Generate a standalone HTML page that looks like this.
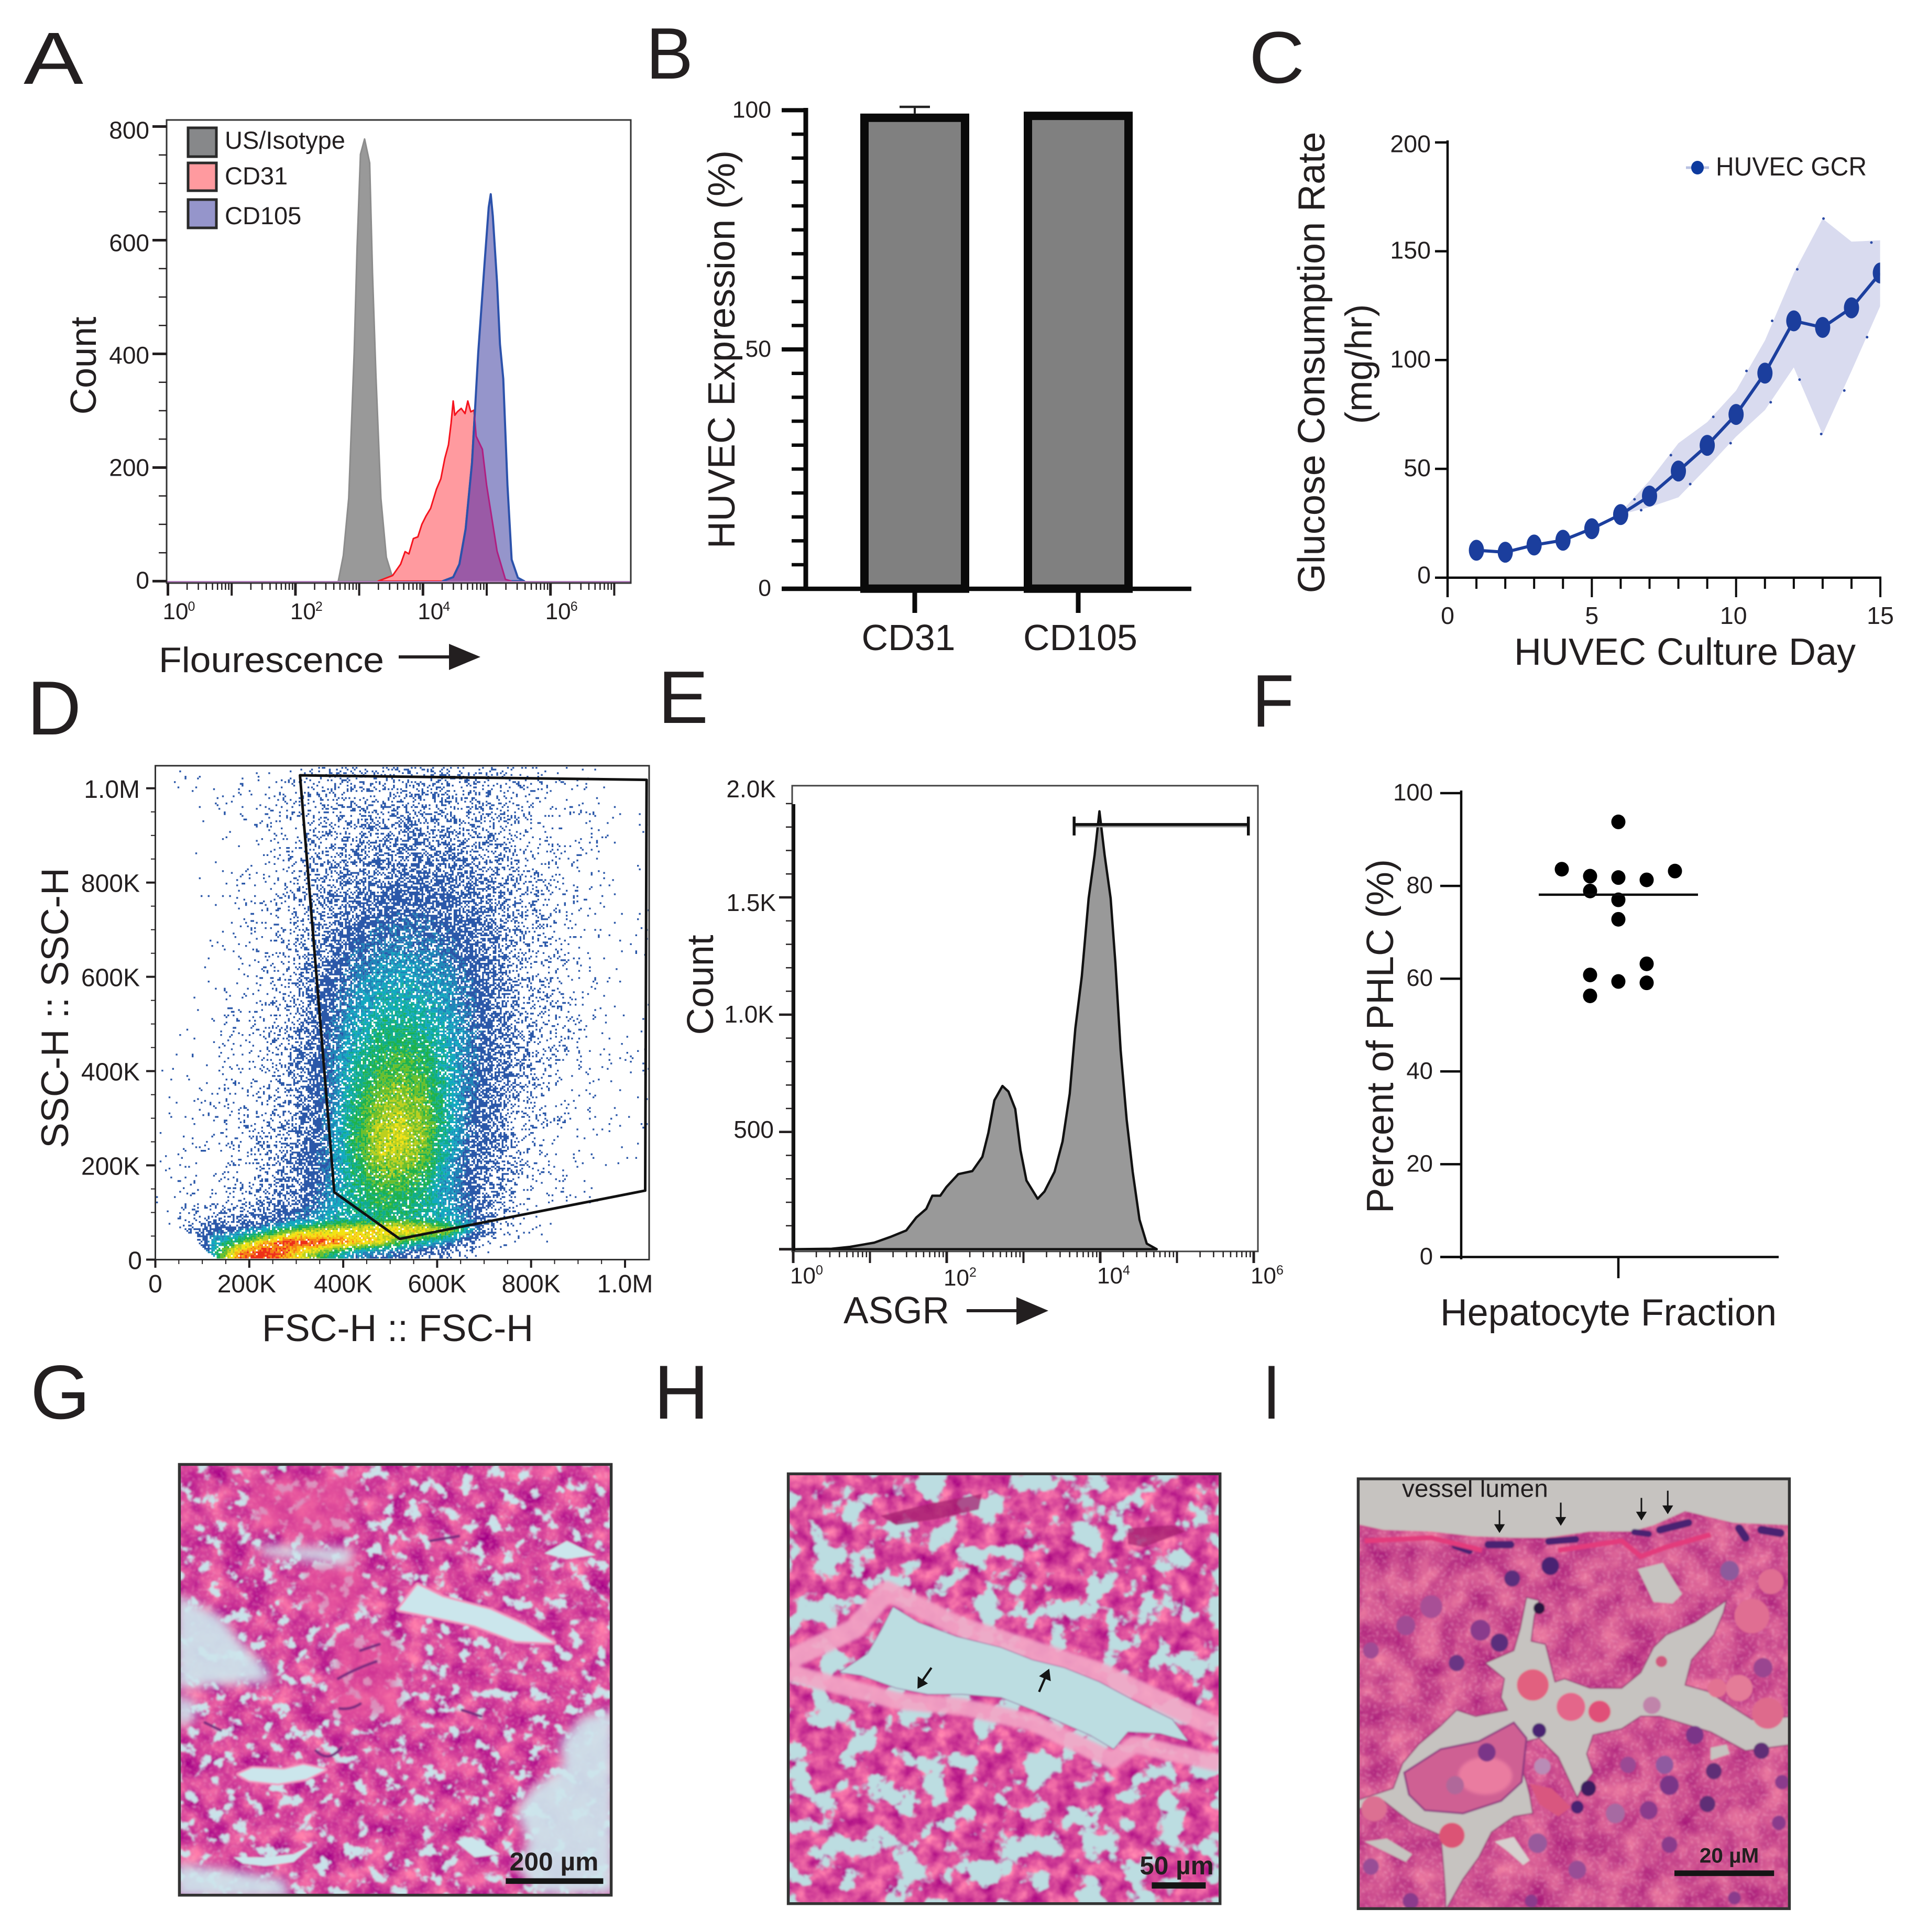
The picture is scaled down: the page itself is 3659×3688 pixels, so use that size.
<!DOCTYPE html>
<html lang="en">
<head>
<meta charset="utf-8">
<title>HUVEC and hepatocyte characterisation figure</title>
<style>
html,body{margin:0;padding:0;background:#fff;}
svg{display:block;}
text{font-family:"Liberation Sans",Arial,sans-serif;fill:#231f20;}
</style>
</head>
<body>
<svg id="figure" xmlns="http://www.w3.org/2000/svg" width="3659" height="3688" viewBox="0 0 3659 3688">
<defs>
<filter id="tissue-g" x="0" y="0" width="100%" height="100%" color-interpolation-filters="sRGB">
  <feTurbulence type="fractalNoise" baseFrequency=".024" numOctaves="4" seed="7" result="n"/>
  <feColorMatrix in="n" type="matrix" values="0 0 0 0 0  0 0 0 0 0  0 0 0 0 0  9 0 0 0 -2.9" result="mask"/>
  <feTurbulence type="fractalNoise" baseFrequency=".014" numOctaves="4" seed="21" result="c"/>
  <feColorMatrix in="c" type="matrix" values=".5 0 0 0 .58  .7 0 0 0 -.1  .2 0 0 0 .5  0 0 0 0 1" result="col"/>
  <feComposite in="col" in2="mask" operator="in"/>
</filter>
<filter id="tissue-h" x="0" y="0" width="100%" height="100%" color-interpolation-filters="sRGB">
  <feTurbulence type="fractalNoise" baseFrequency=".012" numOctaves="4" seed="11" result="n"/>
  <feColorMatrix in="n" type="matrix" values="0 0 0 0 0  0 0 0 0 0  0 0 0 0 0  12 0 0 0 -4.7" result="mask"/>
  <feTurbulence type="fractalNoise" baseFrequency=".02" numOctaves="4" seed="5" result="c"/>
  <feColorMatrix in="c" type="matrix" values=".5 0 0 0 .6  .7 0 0 0 -.06  .25 0 0 0 .48  0 0 0 0 1" result="col"/>
  <feComposite in="col" in2="mask" operator="in"/>
</filter>
<filter id="tissue-i" x="0" y="0" width="100%" height="100%" color-interpolation-filters="sRGB">
  <feTurbulence type="fractalNoise" baseFrequency=".012" numOctaves="4" seed="9" result="c"/>
  <feColorMatrix in="c" type="matrix" values=".35 0 0 0 .63  .5 0 0 0 .06  .2 0 0 0 .46  0 0 0 0 1"/>
</filter>
<filter id="grain" x="0" y="0" width="100%" height="100%" color-interpolation-filters="sRGB">
  <feTurbulence type="fractalNoise" baseFrequency=".11" numOctaves="2" seed="3" result="n"/>
  <feColorMatrix in="n" type="matrix" values="0 0 0 0 .98  0 0 0 0 .72  0 0 0 0 .82  18 0 0 0 -10.6"/>
</filter>
<filter id="soft" x="-30%" y="-30%" width="160%" height="160%"><feGaussianBlur stdDeviation="16"/></filter>
<filter id="softer" x="-30%" y="-30%" width="160%" height="160%"><feGaussianBlur stdDeviation="5"/></filter>
<filter id="image-soft" x="0" y="0" width="100%" height="100%"><feGaussianBlur stdDeviation="2.5"/></filter>
<clipPath id="clip-g"><rect x="70" y="76" width="1360" height="1375"/></clipPath>
<clipPath id="clip-h"><rect x="90" y="106" width="1360" height="1372"/></clipPath>
<clipPath id="clip-i"><rect x="70" y="122" width="1358" height="1372"/></clipPath>
</defs>

<text x="45" y="160" font-size="141" textLength="114" lengthAdjust="spacingAndGlyphs">A</text>
<text x="1233" y="150" font-size="139" textLength="90" lengthAdjust="spacingAndGlyphs">B</text>
<text x="2384" y="158" font-size="140" textLength="106" lengthAdjust="spacingAndGlyphs">C</text>
<text x="52" y="1402" font-size="146" textLength="103" lengthAdjust="spacingAndGlyphs">D</text>
<text x="1256" y="1380" font-size="142" textLength="96" lengthAdjust="spacingAndGlyphs">E</text>
<text x="2390" y="1387" font-size="142" textLength="80" lengthAdjust="spacingAndGlyphs">F</text>
<text x="58" y="2708" font-size="146" textLength="114" lengthAdjust="spacingAndGlyphs">G</text>
<text x="1248" y="2708" font-size="146" textLength="105" lengthAdjust="spacingAndGlyphs">H</text>
<text x="2410" y="2708" font-size="146" textLength="34" lengthAdjust="spacingAndGlyphs">I</text>

<g id="panel-a">
  <text transform="translate(183,698) rotate(-90)" text-anchor="middle" font-size="70">Count</text>
  <text x="303" y="1283" font-size="68" textLength="430" lengthAdjust="spacingAndGlyphs">Flourescence</text>
  <line x1="761" y1="1254" x2="860" y2="1254" stroke="#231f20" stroke-width="6"/>
  <polygon points="857,1229 917,1254 857,1279" fill="#231f20"/>
</g>
<g id="panel-b">
  <text transform="translate(1402,667) rotate(-90)" text-anchor="middle" font-size="72">HUVEC Expression (%)</text>
</g>
<g id="panel-c">
  <text transform="translate(2528,692) rotate(-90)" text-anchor="middle" font-size="72">Glucose Consumption Rate</text>
  <text transform="translate(2618,695) rotate(-90)" text-anchor="middle" font-size="71">(mg/hr)</text>
  <text x="2890" y="1269" font-size="72" textLength="652" lengthAdjust="spacingAndGlyphs">HUVEC Culture Day</text>
</g>
<g id="panel-d">
  <text x="500" y="2560" font-size="72" textLength="518" lengthAdjust="spacingAndGlyphs">FSC-H :: FSC-H</text>
  <text transform="translate(130,1924) rotate(-90)" text-anchor="middle" font-size="73">SSC-H :: SSC-H</text>
</g>
<g id="panel-e">
  <text transform="translate(1361,1880) rotate(-90)" text-anchor="middle" font-size="71.6">Count</text>
  <text x="1610" y="2526" font-size="72" textLength="202" lengthAdjust="spacingAndGlyphs">ASGR</text>
  <line x1="1845" y1="2502" x2="1943" y2="2502" stroke="#231f20" stroke-width="6"/>
  <polygon points="1940,2476 2001,2502 1940,2529" fill="#231f20"/>
</g>
<g id="panel-f">
  <text transform="translate(2659,1978) rotate(-90)" text-anchor="middle" font-size="72.4">Percent of PHLC (%)</text>
  <text x="2749" y="2530" font-size="72" textLength="642" lengthAdjust="spacingAndGlyphs">Hepatocyte Fraction</text>
</g>

<g id="panel-g" transform="translate(300,2750) scale(.606,.598)">
  <g clip-path="url(#clip-g)">
    <g filter="url(#image-soft)">
      <rect x="70" y="76" width="1360" height="1375" fill="#c8e3ea"/>
      <rect x="70" y="76" width="1360" height="1375" fill="#000" filter="url(#tissue-g)"/>
      <rect x="70" y="76" width="1360" height="1375" fill="#000" filter="url(#grain)" opacity=".25"/>
      <g filter="url(#soft)" fill="#e9569c" opacity=".6">
        <polygon points="300,120 620,110 620,290 480,320 300,270"/>
        <polygon points="470,400 640,370 650,520 520,560 460,500"/>
        <polygon points="560,620 760,620 760,880 560,880"/>
      </g>
      <g filter="url(#soft)" fill="#cde5ec" opacity=".93">
        <polygon points="60,490 200,560 260,640 340,720 360,770 200,780 60,790"/>
        <polygon points="60,810 130,840 110,900 60,910"/>
        <polygon points="1440,860 1340,880 1270,960 1280,1040 1180,1110 1130,1180 1170,1280 1130,1360 1200,1450 1440,1450"/>
        <polygon points="320,335 620,345 600,400 500,385 340,365"/>
        <polygon points="60,1350 230,1370 400,1400 420,1460 60,1460"/>
      </g>
      <polygon points="760,540 820,460 900,500 1050,540 1160,590 1250,645 1130,640 1000,590 860,560" fill="#cbe6ec" stroke="#f293bd" stroke-width="14" stroke-linejoin="round" paint-order="stroke"/>
      <polygon points="255,1065 300,1045 400,1050 460,1035 530,1050 470,1080 380,1095 290,1085" fill="#cbe6ec" stroke="#f293bd" stroke-width="12" stroke-linejoin="round" paint-order="stroke"/>
      <polygon points="240,1330 340,1330 430,1320 490,1290 430,1345 340,1358 270,1350" fill="#cbe6ec"/>
      <polygon points="1220,360 1290,320 1380,365 1290,378" fill="#cbe6ec"/>
      <polygon points="940,1280 990,1265 1080,1320 1000,1330" fill="#cbe6ec"/>
      <path d="M570,760 Q620,730 690,705 M640,670 L700,650 M575,855 Q610,860 640,840 M500,990 Q540,1030 580,980 M150,900 L200,925 M960,860 L1020,880 M860,320 L950,305" fill="none" stroke="#7a2a80" stroke-width="9" stroke-linecap="round"/>
    </g>
    <text x="1110" y="1372" font-size="82" font-weight="bold" textLength="280" lengthAdjust="spacingAndGlyphs">200 µm</text>
    <rect x="1098" y="1397" width="307" height="18" fill="#151515"/>
  </g>
  <rect x="70" y="76" width="1360" height="1375" fill="none" stroke="#333" stroke-width="9"/>
</g>

<g id="panel-h" transform="translate(1450,2750) scale(.606,.598)">
  <g clip-path="url(#clip-h)">
    <g filter="url(#image-soft)">
      <rect x="90" y="106" width="1360" height="1372" fill="#bcdde1"/>
      <rect x="90" y="106" width="1360" height="1372" fill="#000" filter="url(#tissue-h)"/>
      <g filter="url(#softer)" fill="none" stroke="#f3a6c6" stroke-linejoin="round" opacity=".9">
        <path d="M90,700 L300,600 L400,480 L620,590 L860,670 L1070,740 L1300,850 L1450,920" stroke-width="65"/>
        <path d="M90,740 L430,830 L640,850 L860,900 L1110,1020 L1180,970 L1450,1030" stroke-width="55"/>
      </g>
      <polygon points="250,740 340,680 385,600 420,530 500,580 620,625 760,660 860,700 960,725 1070,770 1180,830 1300,890 1350,960 1260,935 1160,930 1115,985 1040,940 950,900 860,860 760,820 640,810 530,810 430,790 320,750" fill="#bcdde1" stroke="#8e3b8e" stroke-width="2"/>
      <polygon points="380,240 540,200 700,170 690,220 560,250 430,270" fill="#a5206f" opacity=".75"/>
      <polygon points="1160,280 1300,270 1340,290 1210,340 1160,330" fill="#a5206f" opacity=".75"/>
    </g>
    <line x1="541" y1="725" x2="510" y2="770" stroke="#151515" stroke-width="7"/>
    <polygon points="497,792 498,752 530,775" fill="#151515"/>
    <line x1="880" y1="802" x2="900" y2="755" stroke="#151515" stroke-width="7"/>
    <polygon points="912,728 880,752 917,768" fill="#151515"/>
    <text x="1197" y="1385" font-size="82" font-weight="bold" textLength="233" lengthAdjust="spacingAndGlyphs">50 µm</text>
    <rect x="1235" y="1410" width="170" height="20" fill="#151515"/>
  </g>
  <rect x="90" y="106" width="1360" height="1372" fill="none" stroke="#333" stroke-width="9"/>
</g>

<g id="panel-i" transform="translate(2550,2750) scale(.606,.598)">
  <g clip-path="url(#clip-i)">
    <g filter="url(#image-soft)">
      <rect x="70" y="122" width="1358" height="1372" fill="#000" filter="url(#tissue-i)"/>
      <rect x="70" y="122" width="1358" height="1372" fill="#000" filter="url(#grain)" opacity=".3"/>
      <polygon points="60,115 1440,115 1440,270 1250,262 1100,225 1000,270 930,290 800,290 660,310 560,310 430,305 300,290 150,285 60,265" fill="#c6c3c0"/>
      <polygon points="1230,510 1130,580 1040,620 1000,660 960,740 900,790 800,790 720,760 690,770 660,650 615,640 625,560 640,510 600,500 580,600 560,670 470,710 530,760 520,820 540,860 440,880 380,860 330,910 260,970 210,1030 180,1110 60,1150 60,1180 150,1150 200,1190 240,1220 330,1260 340,1380 345,1450 345,1500 400,1400 450,1330 490,1250 560,1200 620,1190 610,1130 600,1090 590,1060 600,960 640,950 700,1010 760,1140 780,1100 810,1060 790,1000 810,940 900,920 960,880 1020,880 1180,930 1290,990 1440,970 1440,880 1310,890 1170,800 1100,780 1120,700 1190,620 1220,550" fill="#c6c3c0" stroke="#9c3a78" stroke-width="4" stroke-linejoin="round"/>
      <polygon points="330,985 450,960 560,900 600,950 585,1090 520,1150 400,1190 280,1180 230,1130 215,1060" fill="#cf6093" stroke="#8f3a82" stroke-width="6"/>
      <ellipse cx="470" cy="1070" rx="85" ry="60" fill="#ea7ba0" filter="url(#softer)"/>
      <polygon points="610,1095 680,1110 740,1170 700,1200 640,1160" fill="#d9577f"/>
      <polygon points="950,410 1030,390 1090,490 1060,520 1000,515" fill="#c6c3c0"/>
      <polygon points="90,1280 160,1270 240,1320 220,1345 150,1310" fill="#c6c3c0"/>
      <polygon points="500,1280 560,1265 610,1340 590,1355 540,1310" fill="#d6d0cf"/>
      <polygon points="1180,980 1230,970 1240,1000 1180,1020" fill="#c6c3c0"/>
      <g id="i-globules"></g>
      <g id="i-nuclei"></g>
      <g fill="none" stroke="#4a2472" stroke-linecap="round">
        <path d="M480,332 L550,332" stroke-width="24"/>
        <path d="M670,322 L755,315" stroke-width="22"/>
        <path d="M940,292 L985,298" stroke-width="20"/>
        <path d="M1020,285 L1110,262" stroke-width="24"/>
        <path d="M1270,280 L1290,310 M1340,285 L1400,295" stroke-width="26"/>
        <path d="M375,335 L420,352" stroke-width="22"/>
      </g>
      <path d="M90,320 L300,310 L460,350 M700,350 L900,320 L960,370 L1040,340 L1180,300" fill="none" stroke="#e33a7c" stroke-width="16"/>
    </g>
    <text x="208" y="180" font-size="79" textLength="460" lengthAdjust="spacingAndGlyphs">vessel lumen</text>
    <g id="i-arrows"></g>
    <text x="1145" y="1347" font-size="67" font-weight="bold" textLength="187" lengthAdjust="spacingAndGlyphs">20 µM</text>
    <rect x="1066" y="1372" width="314" height="18" fill="#151515"/>
  </g>
  <rect x="70" y="122" width="1358" height="1372" fill="none" stroke="#333" stroke-width="9"/>
</g>
</svg>

<script>
/* ---------- Panel A data ---------- */
const isotypeLog   = [2.672,2.751,2.836,2.921,2.967,3.02,3.085,3.164,3.209,3.262,3.34,3.426,3.524,3.62];
const isotypeCount = [0,45,146,402,588,751,778,736,542,363,146,42,6,0];
const cd31Log      = [3.295,3.524,3.65,3.72,3.78,3.85,3.92,3.983,4.05,4.12,4.212,4.28,4.343,4.40,4.441,4.474,4.5,4.539,4.6,4.66,4.703,4.75,4.80,4.834,4.932,4.998,5.162,5.293,5.391];
const cd31Count    = [0,10,30,52,48,75,78,100,115,128,162,180,216,240,278,317,292,298,304,295,317,298,301,255,232,169,53,3,0];
const cd105Log     = [4.31,4.474,4.572,4.67,4.769,4.867,4.965,5.031,5.063,5.096,5.162,5.208,5.26,5.325,5.391,5.489,5.588];
const cd105Count   = [0,7,30,92,208,402,557,658,681,642,526,417,356,169,38,6,0];
const aCountTicks  = [0,200,400,600,800];
const aLogTicks    = [0,2,4,6];
const aLegendNames = ['US/Isotype','CD31','CD105'];

/* ---------- Panel B data ---------- */
const bCategories  = ['CD31','CD105'];
const bValues      = [99.3,99.7];
const bErrorTop    = [100.7,99.7];
const bTickLabels  = [0,50,100];

/* ---------- Panel C data ---------- */
const cDays        = [1,2,3,4,5,6,7,8,9,10,11,12,13,14,15];
const cMeans       = [12.6,11.7,15,17.2,22.5,29,37.5,49,60.8,75,94,118,115,124,140];
const cBandDays    = [6,7,8,9,10,11,12,13,14,15];
const cBandUpper   = [30,44.6,61.8,71.5,86,109,140,165,154.4,155];
const cBandLower   = [29,32.4,36.9,50.6,64.8,77,96.6,65.8,95,125];
const cSpeckDays   = [6.48,7.74,9.21,10.36,11.25,12.12,13.03,14.69,6.71,8.41,9.81,11.2,12.2,12.95,13.75,14.54];
const cSpeckValues = [36,56.3,73.9,95,118,141.7,165,154,31,43,61.8,80.6,91,66,86,110.5];
const cYTicks      = [0,50,100,150,200];
const cXTicks      = [0,5,10,15];

/* ---------- Panel D data: density level (0-9.5) per FSC/SSC bin ---------- */
const dFscBins = [25,75,125,175,225,275,325,375,425,475,525,575,625,675,725,775,825,875,925,975,1025];
const dSscBins = [1025,975,925,875,825,775,725,675,625,575,525,475,425,375,325,275,225,175,125,87.5,62.5,37.5,12.5];
const dDensity = [
[0,.2,0,.2,.3,.3,.6,1,1,1,1,1.2,1,1,1,1,.3,.2,.1,0,0],
[0,0,.2,.2,.2,.4,.7,1,1.1,1.2,1.3,1.3,1.2,1.2,1,.8,.4,.3,.2,0,0],
[0,0,.1,.1,.2,.4,.8,1.1,1.3,1.5,1.6,1.6,1.5,1.4,1.1,.9,.5,.3,.2,.1,.1],
[0,0,.1,.1,.2,.5,1,1.2,1.5,1.8,1.9,1.9,1.8,1.6,1.3,1,.6,.3,.2,.1,0],
[0,.05,.1,.2,.3,.6,1,1.4,1.8,2.1,2.3,2.3,2.1,1.9,1.5,1.1,.7,.3,.2,.1,.1],
[0,0,.1,.2,.3,.6,1.1,1.6,2.2,2.6,2.8,2.7,2.5,2.2,1.7,1.2,.7,.3,.2,.1,0],
[0,0,.1,.2,.4,.7,1.3,2,2.7,3.1,3.2,3.2,2.9,2.5,1.8,1.2,.8,.4,.2,.1,.1],
[0,0,.1,.2,.4,.8,1.5,2.4,3.1,3.6,3.7,3.6,3.3,2.8,2,1.3,.8,.4,.2,.1,.1],
[0,0,.1,.2,.4,.8,1.6,2.8,3.6,4,4.2,4,3.7,3,2.2,1.4,.8,.4,.2,.1,.1],
[0,0,.1,.3,.4,.9,1.8,3,3.9,4.4,4.6,4.4,4,3.3,2.3,1.4,.9,.4,.3,.1,0],
[0,.05,.15,.3,.5,.9,1.9,3.2,4.2,4.9,5,4.8,4.3,3.4,2.4,1.5,.9,.4,.2,.1,.1],
[0,.05,.15,.3,.5,1,2,3.4,4.6,5.3,5.5,5.2,4.5,3.5,2.4,1.5,.9,.5,.2,.1,.1],
[.05,.1,.2,.3,.5,1,2.2,3.6,4.9,5.7,6,5.6,4.7,3.5,2.4,1.5,.8,.4,.2,.1,.1],
[.05,.1,.2,.4,.6,1.1,2.3,3.7,5.2,6.1,6.4,6,4.8,3.4,2.3,1.4,.7,.3,.2,.1,.1],
[.1,.15,.3,.4,.7,1.2,2.4,3.8,5.4,6.5,6.8,6.3,4.8,3.3,2.2,1.2,.6,.3,.2,.1,.1],
[.1,.15,.3,.5,.8,1.3,2.5,3.9,5.6,6.9,7.2,6.5,4.8,3.2,2,1,.5,.2,.1,.1,.05],
[.1,.2,.3,.6,.9,1.4,2.6,3.9,5.6,6.9,7,6.3,4.6,3,1.8,.9,.4,.2,.1,.05,.05],
[.1,.2,.4,.7,1,1.6,2.7,3.9,5.3,6.2,6.3,5.6,4.2,2.8,1.6,.7,.3,.2,.1,.05,0],
[.1,.3,.5,.9,1.3,2,3,4.2,5.2,5.7,5.6,5.2,4.2,3,1.6,.5,.2,.1,.1,0,0],
[.1,.8,1.2,1.6,2.2,3,3.8,4.6,5,5.4,5.4,5,4.6,3.5,1.2,.3,.1,0,0,0,0],
[0,2.5,3,3.5,4.5,5.8,6.8,7.2,7.5,7.6,7.8,7.6,6.5,4.2,1.2,.3,.1,0,0,0,0],
[0,0,4.5,6,7.6,9,9.3,8.8,8.2,7.5,6,5,4,2,.5,.1,0,0,0,0,0],
[0,0,5,8.5,9.5,8.5,7,5.5,4,3.5,3,2,1.2,.3,0,0,0,0,0,0,0]
];
const dGateFsc = [308,1046,1043,520,381,308];
const dGateSsc = [1027.6,1018,146.5,44,143,1027.6];
const dXTicks  = [0,200,400,600,800,1000];
const dXLabels = ['0','200K','400K','600K','800K','1.0M'];
const dYTicks  = [0,200,400,600,800,1000];
const dYLabels = ['0','200K','400K','600K','800K','1.0M'];

/* ---------- Panel E data ---------- */
const eLog   = [.02,.5,.74,1.055,1.264,1.473,1.603,1.734,1.812,1.916,1.995,2.151,2.334,2.465,2.543,2.621,2.726,2.804,2.893,2.961,3.039,3.185,3.274,3.405,3.509,3.603,3.676,3.76,3.849,3.927,3.99,4.057,4.136,4.198,4.266,4.345,4.423,4.512,4.606,4.736];
const eCount = [0,2,10,28,52,80,135,172,228,228,265,320,333,394,496,635,696,672,598,422,293,215,246,330,459,663,941,1163,1496,1681,1867,1681,1496,1219,848,552,330,126,24,0];
const eYTicks  = [500,1000,1500];
const eYLabels = ['500','1.0K','1.5K'];
const eLogTicks = [0,2,4,6];
const eGateLog = [3.66,5.93];
const eGateCount = 1811;

/* ---------- Panel F data ---------- */
const fSwarmSlots = [0,-2,-1,0,1,2,-1,0,0,1,-1,0,1,-1];
const fPercents   = [93.8,83.6,82.1,81.8,81.3,83.2,78.9,77,72.8,63.2,60.8,59.4,59.1,56.3];
const fMean       = 78.1;
const fYTicks     = [0,20,40,60,80,100];

/* ---------- Illustration details for panel I ---------- */
const iNuclei = [[300,530,35,'#a84f96'],[220,590,30,'#a04c94'],[455,605,32,'#8a3a8c'],[515,645,28,'#5a2f7c'],[380,710,25,'#6a3484'],[110,670,25,'#a04c94'],[555,440,25,'#5a2f7c'],[675,400,28,'#4a2472'],[640,535,18,'#2a1240'],[1240,415,30,'#8d5a9c'],[1130,940,28,'#7a3488'],[920,1035,25,'#9a4a94'],[1035,1035,28,'#8f5aa0'],[1050,1100,30,'#7a3488'],[1345,725,30,'#9a4590'],[985,1180,28,'#8a3a8c'],[1050,1290,25,'#8a3a8c'],[635,1285,30,'#985a9c'],[760,1370,28,'#984e96'],[1340,990,25,'#5e2d76'],[1190,1055,25,'#5e2d76'],[1405,1090,22,'#8a3a8c'],[1395,1220,22,'#8a3a8c'],[1170,1160,25,'#5e2d76'],[475,995,28,'#7a3488'],[375,1100,28,'#b0689a'],[110,1360,25,'#984e96'],[880,1190,30,'#a66aa2'],[235,1470,25,'#8a3a8c'],[615,1470,20,'#8a3a8c'],[1255,1460,20,'#8a3a8c'],[795,1110,24,'#3c1f5f'],[640,925,22,'#4a2472'],[760,1170,20,'#4a2472']];
const iGlobules = [[620,780,50,'#e2607f'],[740,850,45,'#e4668a'],[830,865,35,'#e05078'],[995,845,28,'#c084aa'],[365,1260,40,'#dc5274'],[650,1040,26,'#b98cb6'],[1025,705,18,'#d0587f'],[1270,790,42,'#e47c98'],[1200,790,30,'#e27292'],[1360,870,50,'#de6a8c'],[1310,560,55,'#e06e92'],[1370,450,40,'#e06e92'],[120,1175,40,'#dc7092']];
const iArrowX    = [515,708,962,1045];
const iArrowTop  = [222,198,183,160];
const iArrowTip  = [295,272,255,235];

/* ---------- Shared drawing helpers ---------- */
const NS = 'http://www.w3.org/2000/svg';
const INK = '#231f20';

function makeEl(parent, tag, name) {
  const el = document.createElementNS(NS, tag);
  
  
  parent.appendChild(el);
  return el;
}
function line(parent, name, x1, y1, x2, y2, w, color) {
  const el = makeEl(parent, 'line', name);
  el.setAttribute('x1', x1); el.setAttribute('y1', y1);
  el.setAttribute('x2', x2); el.setAttribute('y2', y2);
  el.setAttribute('stroke', color || INK);
  el.setAttribute('stroke-width', w);
  return el;
}
function label(parent, name, x, y, str, size, anchor) {
  const el = makeEl(parent, 'text', name);
  el.setAttribute('x', x); el.setAttribute('y', y);
  el.setAttribute('font-size', size);
  el.setAttribute('text-anchor', anchor || 'start');
  el.textContent = str;
  return el;
}
function path(parent, name, d, fill, stroke, w) {
  const el = makeEl(parent, 'path', name);
  el.setAttribute('d', d);
  el.setAttribute('fill', fill || 'none');
  if (stroke) { el.setAttribute('stroke', stroke); el.setAttribute('stroke-width', w); el.setAttribute('stroke-linejoin', 'round'); }
  return el;
}
function rect(parent, name, x, y, w, h, fill, stroke, sw) {
  const el = makeEl(parent, 'rect', name);
  el.setAttribute('x', x); el.setAttribute('y', y);
  el.setAttribute('width', w); el.setAttribute('height', h);
  el.setAttribute('fill', fill || 'none');
  if (stroke) { el.setAttribute('stroke', stroke); el.setAttribute('stroke-width', sw); }
  return el;
}
function ellipse(parent, name, cx, cy, rx, ry, fill) {
  const el = makeEl(parent, 'ellipse', name);
  el.setAttribute('cx', cx); el.setAttribute('cy', cy);
  el.setAttribute('rx', rx); el.setAttribute('ry', ry);
  el.setAttribute('fill', fill);
  return el;
}
function polyD(xs, ys, fx, fy) {
  return xs.map((v, i) => (i ? 'L' : 'M') + fx(v).toFixed(1) + ' ' + fy(ys[i]).toFixed(1)).join('');
}
function areaD(xs, ys, fx, fy) { return polyD(xs, ys, fx, fy) + 'Z'; }
function logAxisTicks(parent, fx, yTop, fromDecade, toDecade, maxX, majorLen, minorLen) {
  for (let d = fromDecade; d <= toDecade; d++) {
    const mx = fx(d);
    if (mx <= maxX) line(parent, 'x-major-tick', mx, yTop, mx, yTop + majorLen, d % 2 ? 4 : 5);
    for (let m = 2; m < 10; m++) {
      const tx = fx(d + Math.log10(m));
      if (tx <= maxX) line(parent, 'x-minor-tick', tx, yTop, tx, yTop + minorLen, 2.5);
    }
  }
}

/* ---------- Panel A ---------- */
(function () {
  const g = document.getElementById('panel-a');
  const ax = v => 320.5 + 121.7 * v;
  const ay = c => 1109.4 - 1.0848 * c;
  const defs = document.querySelector('defs');
  const c1 = makeEl(defs, 'clipPath', 'cd31-clip');
  c1.setAttribute('id', 'clip-cd31');
  path(c1, 'cd31-clip-shape', areaD(cd31Log, cd31Count, ax, ay));
  const c2 = makeEl(defs, 'clipPath', 'cd105-clip');
  c2.setAttribute('id', 'clip-cd105');
  path(c2, 'cd105-clip-shape', areaD(cd105Log, cd105Count, ax, ay));

  path(g, 'isotype-histogram', areaD(isotypeLog, isotypeCount, ax, ay), '#999999', '#8c8c8c', 3);
  path(g, 'cd31-histogram', areaD(cd31Log, cd31Count, ax, ay), '#ff9a9f', '#f5141e', 3);
  path(g, 'cd105-histogram', areaD(cd105Log, cd105Count, ax, ay), '#9595cb', '#2c52ab', 4);
  const overlap = path(g, 'cd31-cd105-overlap', areaD(cd31Log, cd31Count, ax, ay), '#9a5aa6');
  overlap.setAttribute('clip-path', 'url(#clip-cd105)');
  const overlapEdge = path(g, 'cd31-edge-over-cd105', polyD(cd31Log, cd31Count, ax, ay), 'none', '#b01f80', 3);
  overlapEdge.setAttribute('clip-path', 'url(#clip-cd105)');
  const cd105Edge = path(g, 'cd105-edge-over-overlap', polyD(cd105Log, cd105Count, ax, ay), 'none', '#2c52ab', 4);
  cd105Edge.setAttribute('clip-path', 'url(#clip-cd31)');
  line(g, 'histogram-baseline', 319, 1111, 1203, 1111, 4, '#b47fbd');

  rect(g, 'plot-frame', 318, 229, 886, 884, 'none', '#333', 3);
  aCountTicks.forEach(v => {
    line(g, 'y-major-tick', 291, ay(v), 318, ay(v), 5);
    label(g, 'y-tick-label', 285, ay(v) + 14 + v / 800 * 9, String(v), 46, 'end');
  });
  for (let v = 50; v < 800; v += 100) line(g, 'y-minor-tick', 303, ay(v), 318, ay(v), 2.5);
  for (let v = 100; v < 800; v += 200) line(g, 'y-minor-tick', 303, ay(v), 318, ay(v), 2.5);
  logAxisTicks(g, ax, 1113, 0, 7, 1202, 24, 13);
  aLogTicks.forEach(n => {
    label(g, 'x-tick-label', ax(n) - 10, 1182, '10', 44);
    label(g, 'x-tick-exponent', ax(n) + 38, 1166, String(n), 25);
  });
  const fills = ['#87888a', '#ff9a9f', '#9595cb'];
  const rows = [244, 311, 381];
  const heights = [55, 53, 54];
  const textY = [284, 352, 428];
  aLegendNames.forEach((n, i) => {
    rect(g, 'legend-swatch-' + n.toLowerCase().replace('/', '-'), 359, rows[i], 54, heights[i], fills[i], '#2a2a2a', 5);
    label(g, 'legend-entry-' + n.toLowerCase().replace('/', '-'), 429, textY[i], n, 47);
  });
})();

/* ---------- Panel B ---------- */
(function () {
  const g = document.getElementById('panel-b');
  const by = v => 1123.7 - 9.133 * v;
  const bx = i => 1746 + 312 * i;
  const barW = 208, stroke = 16;
  bCategories.forEach((name, i) => {
    const top = by(bValues[i]);
    rect(g, 'bar-' + name.toLowerCase(), bx(i) - barW / 2 + stroke / 2, top + stroke / 2, barW - stroke, 1123.7 - top - stroke / 2, '#808080', '#0a0a0a', stroke);
    line(g, 'x-tick', bx(i), 1124, bx(i), 1170, 9, '#0a0a0a');
    label(g, 'x-tick-label', bx(i) - 12 + i * 16, 1241, name, 70, 'middle');
    if (bErrorTop[i] > bValues[i]) {
      line(g, 'error-bar-stem', bx(i), by(bValues[i]), bx(i), by(bErrorTop[i]), 4, '#222');
      line(g, 'error-bar-cap', bx(i) - 29, by(bErrorTop[i]), bx(i) + 29, by(bErrorTop[i]), 4.5, '#222');
    }
  });
  for (let v = 0; v <= 100; v += 5) {
    const major = v % 50 === 0;
    line(g, major ? 'y-major-tick' : 'y-minor-tick', major ? 1492 : 1511, by(v), 1538, by(v), major ? 8 : 6.5, '#0a0a0a');
  }
  line(g, 'y-axis-line', 1538, 206, 1538, 1128, 9, '#0a0a0a');
  line(g, 'x-axis-line', 1492, 1124, 2274, 1124, 8.4, '#0a0a0a');
  bTickLabels.forEach(v => label(g, 'y-tick-label', 1472, by(v) + 14, String(v), 44.5, 'end'));
})();

/* ---------- Panel C ---------- */
(function () {
  const g = document.getElementById('panel-c');
  const cx = d => 2763 + 55.07 * d;
  const cy = v => 1102.7 - 4.154 * v;
  const defs = document.querySelector('defs');
  const clip = makeEl(defs, 'clipPath', 'series-clip');
  clip.setAttribute('id', 'clip-c');
  rect(clip, 'series-clip-rect', 2700, 200, 888.6, 950);
  const series = makeEl(g, 'g', 'gcr-series');
  series.setAttribute('clip-path', 'url(#clip-c)');
  const upper = polyD(cBandDays, cBandUpper, cx, cy);
  const lower = polyD(cBandDays.slice().reverse(), cBandLower.slice().reverse(), cx, cy).replace('M', 'L');
  path(series, 'error-band', upper + lower + 'Z', '#d9dbef');
  cSpeckDays.forEach((d, i) => {
    ellipse(series, 'band-replicate-point', cx(d), cy(cSpeckValues[i]), 2.5, 2.5, '#2b4aa5');
  });
  path(series, 'gcr-line', polyD(cDays, cMeans, cx, cy), 'none', '#1c3f9e', 6);
  cDays.forEach((d, i) => {
    ellipse(series, 'gcr-point-day-' + d, cx(d), cy(cMeans[i]), 14.5, 20, '#1b3e9d');
  });
  line(g, 'y-axis-line', 2763, 268, 2763, 1140, 4.5, '#0a0a0a');
  line(g, 'x-axis-line', 2739, 1102.7, 3591, 1102.7, 4.5, '#0a0a0a');
  cYTicks.forEach(v => {
    line(g, 'y-tick', 2739, cy(v), 2763, cy(v), 4.5, '#0a0a0a');
    label(g, 'y-tick-label', 2731, cy(v) + (v === 200 ? 18.5 : v === 0 ? 11 : 14), String(v), 46.5, 'end');
  });
  for (let d = 1; d <= 15; d++) {
    const major = d % 5 === 0;
    line(g, major ? 'x-major-tick' : 'x-minor-tick', cx(d), 1102, cx(d), major ? 1140 : 1124, 4, '#0a0a0a');
  }
  cXTicks.forEach(d => {
    label(g, 'x-tick-label', cx(d) - (d === 10 ? 5 : 0), 1191, String(d), 46.5, 'middle');
  });
  line(g, 'legend-line', 3218, 320, 3262, 320, 5, '#b9c1e2');
  ellipse(g, 'legend-marker', 3240, 320, 12, 13, '#0d3a9e');
  const legendText = label(g, 'legend-entry-huvec-gcr', 3275, 335, 'HUVEC GCR', 49.6);
  legendText.setAttribute('textLength', '288');
  legendText.setAttribute('lengthAdjust', 'spacingAndGlyphs');
})();

/* ---------- Panel D ---------- */
(function () {
  const g = document.getElementById('panel-d');
  const dx = k => 296.5 + 0.8965 * k;
  const dy = k => 2404.5 - 0.8997 * k;
  const invX = px => (px - 296.5) / 0.8965;
  const invY = py => (2404.5 - py) / 0.8997;

  function bracket(bins, v, desc) {
    const n = bins.length - 1;
    if (desc) {
      if (v >= bins[0]) return [0, 0, 0];
      if (v <= bins[n]) return [n, n, 0];
      for (let i = 0; i < n; i++) if (v <= bins[i] && v >= bins[i + 1]) return [i, i + 1, (bins[i] - v) / (bins[i] - bins[i + 1])];
    }
    if (v <= bins[0]) return [0, 0, 0];
    if (v >= bins[n]) return [n, n, 0];
    for (let i = 0; i < n; i++) if (v >= bins[i] && v <= bins[i + 1]) return [i, i + 1, (v - bins[i]) / (bins[i + 1] - bins[i])];
  }
  function levelAt(f, s) {
    const [c0, c1, tc] = bracket(dFscBins, f, false);
    const [r0, r1, tr] = bracket(dSscBins, s, true);
    const a = dDensity[r0][c0] * (1 - tc) + dDensity[r0][c1] * tc;
    const b = dDensity[r1][c0] * (1 - tc) + dDensity[r1][c1] * tc;
    return a * (1 - tr) + b * tr;
  }
  /* stipple texture only: the coverage and colour of each block come from dDensity */
  function stipple(i, j, k) {
    let h = (Math.imul(i, 374761393) + Math.imul(j, 668265263) + Math.imul(k, 2147483647)) | 0;
    h = Math.imul(h ^ (h >>> 13), 1274126177);
    return ((h ^ (h >>> 16)) >>> 0) / 4294967296;
  }
  const palette = [[3.6,'#2b58a9'],[4.3,'#1f86b8'],[4.9,'#12a9c0'],[5.5,'#10ad8c'],[6.1,'#1eb24e'],[6.7,'#6cbf2c'],[7.3,'#bcd01e'],[7.9,'#f2e312'],[8.4,'#f8b90f'],[8.9,'#f57f12'],[99,'#ee3018']];
  const buckets = palette.map(() => []);
  const step = 3.4;
  for (let j = 0, py = 1464; py < 2402; j++, py += step) {
    for (let i = 0, px = 298; px < 1237; i++, px += step) {
      const f = invX(px + step / 2), s = invY(py + step / 2);
      if (s < 62 && f < 130 - s * 1.06) continue;
      const L = levelAt(f, s);
      if (L <= 0) continue;
      const p = L <= 1 ? .2 * L : L <= 3 ? .2 + .27 * (L - 1) : Math.min(.94, .74 + .07 * (L - 3));
      if (stipple(i, j, 1) > p) continue;
      const shown = L + (stipple(i, j, 2) - .5) * 1.1;
      const b = palette.findIndex(e => shown < e[0]);
      buckets[b].push('M' + px.toFixed(1) + ' ' + py.toFixed(1) + 'h' + step + 'v' + step + 'h-' + step + 'z');
    }
  }
  const cloud = makeEl(g, 'g', 'density-scatter-cloud');
  buckets.forEach((b, idx) => {
    path(cloud, 'density-level-' + idx, b.join(''), palette[idx][1]);
  });
  rect(g, 'plot-frame', 296.5, 1461.7, 942.5, 942.8, 'none', '#333', 3);
  path(g, 'cell-gate-polygon', polyD(dGateFsc, dGateSsc, dx, dy) + 'Z', 'none', '#111', 5);
  dYTicks.forEach((v, i) => {
    line(g, 'y-major-tick', 279, dy(v), 296.5, dy(v), 4);
    label(g, 'y-tick-label', i === 0 ? 271 : 267, dy(v) + 18, dYLabels[i], 48, 'end');
  });
  for (let v = 50; v < 1050; v += 50) {
    if (v % 200) line(g, 'y-minor-tick', 288, dy(v), 296.5, dy(v), 2);
  }
  dXTicks.forEach((v, i) => {
    line(g, 'x-major-tick', dx(v), 2404, dx(v), 2420, 4);
    label(g, 'x-tick-label', dx(v) - (i === 1 ? 5 : 0), 2467, dXLabels[i], 48, 'middle');
  });
  for (let v = 50; v < 1050; v += 50) {
    if (v % 200) line(g, 'x-minor-tick', dx(v), 2404, dx(v), 2413, 2);
  }
})();

/* ---------- Panel E ---------- */
(function () {
  const g = document.getElementById('panel-e');
  const ex = v => 1514 + 146.5 * v;
  const ey = c => 2384.6 - 0.4477 * c;
  path(g, 'asgr-histogram', areaD(eLog, eCount, ex, ey), '#999999', '#111', 4.5);
  rect(g, 'plot-frame', 1512, 1499.8, 889, 889, 'none', '#444', 3);
  line(g, 'left-spike-line', 1515, 1535, 1515, 2388, 6, '#111');
  eYTicks.forEach((v, i) => {
    line(g, 'y-major-tick', 1487, ey(v), 1512, ey(v), 4.5);
    label(g, 'y-tick-label', i === 2 ? 1481 : 1477, ey(v) + [11, 15, 26][i], eYLabels[i], 46, 'end');
  });
  label(g, 'y-tick-label', 1481, 1522, '2.0K', 46, 'end');
  line(g, 'y-zero-tick', 1487, ey(0), 1512, ey(0), 5);
  for (let v = 100; v < 2000; v += 100) {
    if (v % 500) line(g, 'y-minor-tick', 1500, ey(v), 1512, ey(v), 2.5);
  }
  logAxisTicks(g, ex, 2389, 0, 6, 2400, 22, 11);
  eLogTicks.forEach(n => {
    label(g, 'x-tick-label', ex(n) - 6, n === 2 ? 2454 : 2450, '10', 44);
    label(g, 'x-tick-exponent', ex(n) + 43, n === 2 ? 2437 : 2433, String(n), 25);
  });
  const gy = ey(eGateCount);
  line(g, 'gate-bar-shadow', ex(eGateLog[0]), gy + 4, ex(eGateLog[1]), gy + 4, 3, '#999');
  line(g, 'gate-bar', ex(eGateLog[0]), gy, ex(eGateLog[1]), gy, 5.5, '#111');
  line(g, 'gate-bar-left-cap', ex(eGateLog[0]), gy - 15, ex(eGateLog[0]), gy + 21, 5.5, '#111');
  line(g, 'gate-bar-right-cap', ex(eGateLog[1]), gy - 15, ex(eGateLog[1]), gy + 21, 5.5, '#111');
})();

/* ---------- Panel F ---------- */
(function () {
  const g = document.getElementById('panel-f');
  const fy = v => 2399.5 - 8.855 * v;
  const fx = slot => 3089 + 54 * slot;
  line(g, 'y-axis-line', 2789, 1509, 2789, 2404, 4.5, '#0a0a0a');
  line(g, 'x-axis-line', 2749, 2399.5, 3395, 2399.5, 4.5, '#0a0a0a');
  line(g, 'x-tick', 3089, 2400, 3089, 2440, 4.5, '#0a0a0a');
  fYTicks.forEach(v => {
    line(g, 'y-tick', 2749, fy(v), 2789, fy(v), 4.5, '#0a0a0a');
    label(g, 'y-tick-label', 2735, fy(v) + 14, String(v), 45.5, 'end');
  });
  fPercents.forEach((v, i) => {
    ellipse(g, 'phlc-point', fx(fSwarmSlots[i]), fy(v), 13.5, 14, '#000');
  });
  line(g, 'mean-line', 2937, fy(fMean), 3241, fy(fMean), 4.5, '#0a0a0a');
})();

/* ---------- Panel I details ---------- */
(function () {
  const nuclei = document.getElementById('i-nuclei');
  const globules = document.getElementById('i-globules');
  const arrows = document.getElementById('i-arrows');
  iGlobules.forEach(b => {
    ellipse(globules, 'eosinophilic-globule', b[0], b[1], b[2], b[2], b[3]);
  });
  iNuclei.forEach(n => {
    ellipse(nuclei, 'nucleus', n[0], n[1], n[2], n[2] * 1.05, n[3]);
  });
  iArrowX.forEach((x, i) => {
    line(arrows, 'arrow-shaft', x, iArrowTop[i], x, iArrowTip[i] - 20, 5, '#151515');
    const head = makeEl(arrows, 'polygon', 'arrow-head');
    head.setAttribute('points', (x - 17) + ',' + (iArrowTip[i] - 28) + ' ' + (x + 17) + ',' + (iArrowTip[i] - 28) + ' ' + x + ',' + iArrowTip[i]);
    head.setAttribute('fill', '#151515');
  });
})();
</script>
</body>
</html>
